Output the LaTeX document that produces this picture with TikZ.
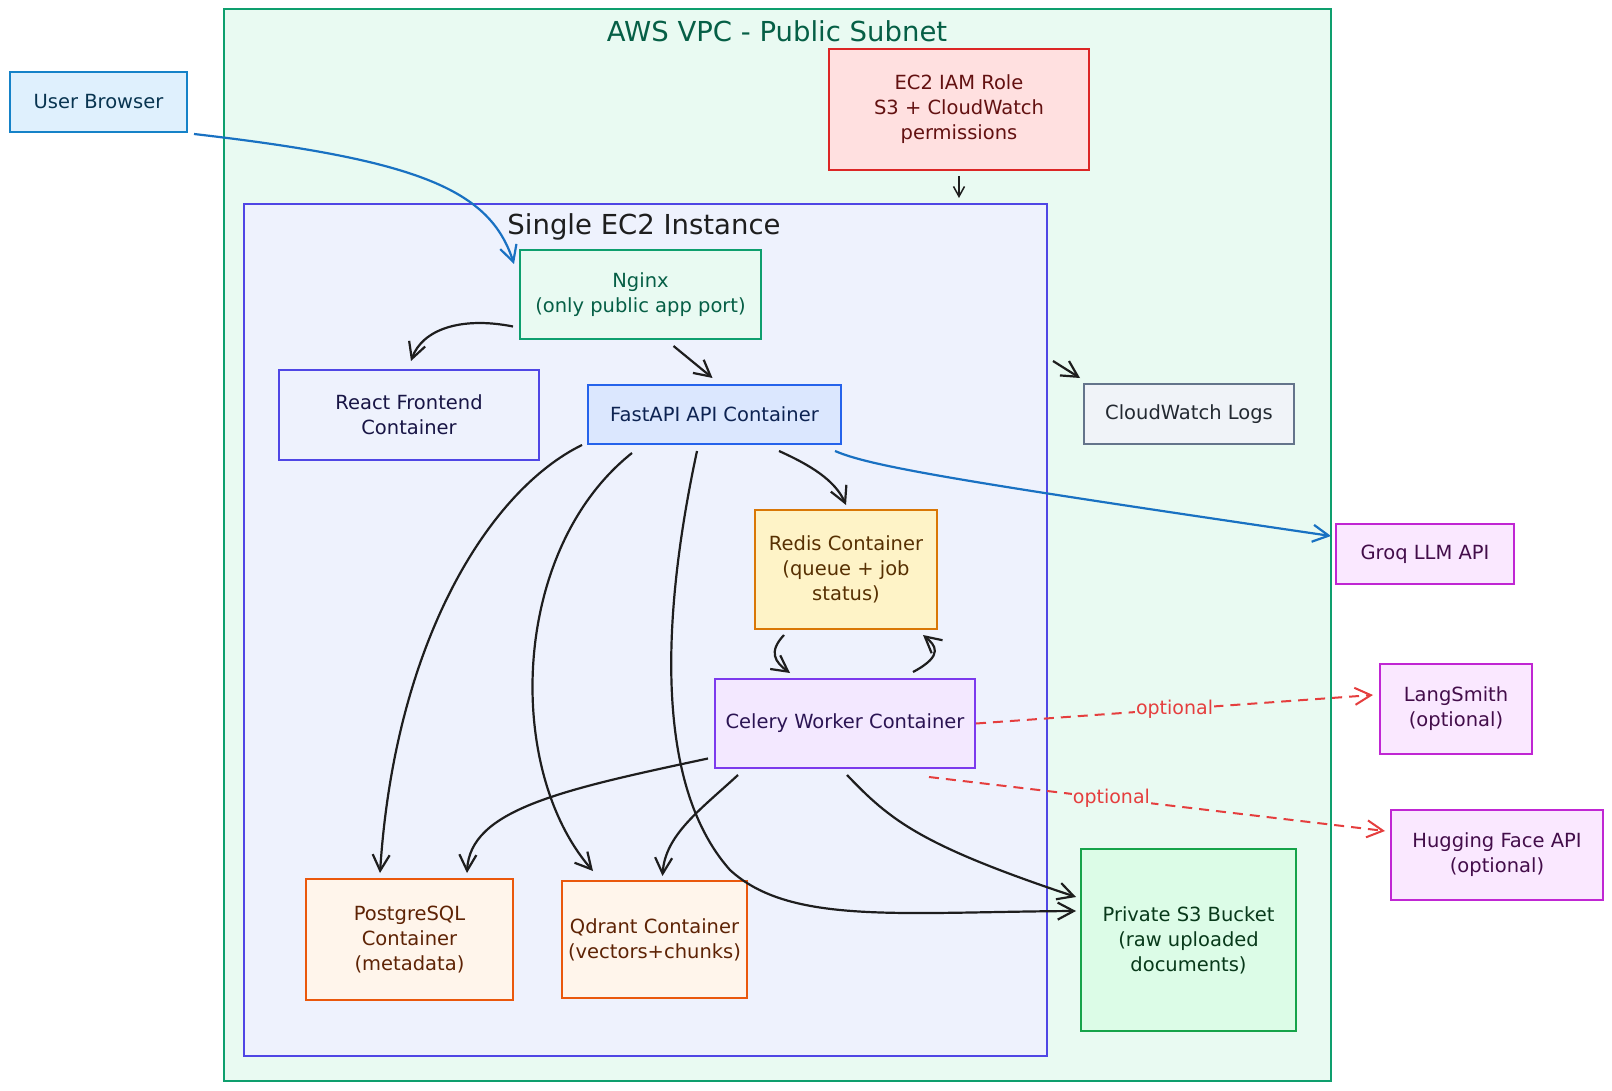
\documentclass[tikz,border=0pt]{standalone}
\usepackage{fontspec}
\setmainfont{DejaVu Sans}
\usepackage{tikz}
\usetikzlibrary{arrows.meta,positioning}

\definecolor{vpcfill}{HTML}{E9FAF2}
\definecolor{vpcline}{HTML}{0E9F6E}
\definecolor{vpctext}{HTML}{065F46}
\definecolor{ec2fill}{HTML}{EEF2FD}
\definecolor{ec2line}{HTML}{4F46E5}
\definecolor{userfill}{HTML}{DFF0FD}
\definecolor{userline}{HTML}{1582C8}
\definecolor{iamfill}{HTML}{FFE0E0}
\definecolor{iamline}{HTML}{DC2626}
\definecolor{apifill}{HTML}{DBE7FE}
\definecolor{apiline}{HTML}{2563EB}
\definecolor{cwfill}{HTML}{F0F3F8}
\definecolor{cwline}{HTML}{64748B}
\definecolor{redisfill}{HTML}{FEF3C7}
\definecolor{redisline}{HTML}{D97706}
\definecolor{celeryfill}{HTML}{F3E8FF}
\definecolor{celeryline}{HTML}{7C3AED}
\definecolor{extfill}{HTML}{FAE8FF}
\definecolor{extline}{HTML}{C026D3}
\definecolor{storefill}{HTML}{FFF5EB}
\definecolor{storeline}{HTML}{EA580C}
\definecolor{s3fill}{HTML}{DCFCE7}
\definecolor{s3line}{HTML}{16A34A}
\definecolor{arrowdark}{HTML}{1E1E1E}
\definecolor{webblue}{HTML}{1971C2}
\definecolor{optred}{HTML}{E53E3E}

\tikzset{
  container/.style={draw, line width=2pt},
  box/.style={draw, line width=2pt, align=center, inner sep=4pt,
    font=\fontsize{19.5}{25}\selectfont},
  title/.style={font=\fontsize{27.5}{30}\selectfont},
  flow/.style={->, line width=2.2pt, draw=arrowdark},
  shortflow/.style={-{Straight Barb[length=10pt,width=11pt]}, line width=1.5pt, draw=arrowdark},
  webflow/.style={->, line width=2.2pt, draw=webblue},
  optflow/.style={->, line width=2pt, draw=optred, dash pattern=on 10pt off 7pt},
  optlabel/.style={fill=vpcfill, text=optred, inner sep=1pt, font=\fontsize{19}{22}\selectfont}
}

\begin{document}
\begin{tikzpicture}[x=1pt, y=-1pt, >={Straight Barb[length=16pt,width=17pt]}]
    \useasboundingbox[fill=white] (0,0) rectangle (1612,1091);

    % VPC and EC2 instance
    \node[container, draw=vpcline, fill=vpcfill, minimum width=1107pt, minimum height=1072pt] (vpc) at (777.5,545) {};
    \node[title, text=vpctext] (vpctitle) at (777,31) {AWS VPC - Public Subnet};
    \node[container, draw=ec2line, fill=ec2fill, minimum width=803pt, minimum height=852pt] (ec2) at (645.5,630) {};
    \node[title, text=arrowdark] (ec2title) at (644,227) {Single EC2 Instance};

    % outside and IAM
    \node[box, draw=userline, fill=userfill, text=userline!40!black, minimum width=177pt, minimum height=60pt] (user) at (98.5,102) {User Browser};
    \node[box, draw=iamline, fill=iamfill, text=iamline!45!black, minimum width=260pt, minimum height=121pt] (iam) at (959,109.5) {EC2 IAM Role\\S3 + CloudWatch\\permissions};

    % containers on the instance
    \node[box, draw=vpcline, fill=vpcfill, text=vpctext, minimum width=241pt, minimum height=89pt] (nginx) at (640.5,294.5) {Nginx\\(only public app port)};
    \node[box, draw=ec2line, fill=ec2fill, text=ec2line!30!black, minimum width=260pt, minimum height=90pt] (react) at (409,415) {React Frontend\\Container};
    \node[box, draw=apiline, fill=apifill, text=apiline!35!black, minimum width=253pt, minimum height=59pt] (fastapi) at (714.5,414.5) {FastAPI API Container};
    \node[box, draw=redisline, fill=redisfill, text=redisline!40!black, minimum width=182pt, minimum height=119pt] (redis) at (846,569.5) {Redis Container\\(queue + job\\status)};
    \node[box, draw=celeryline, fill=celeryfill, text=celeryline!35!black, minimum width=260pt, minimum height=89pt] (celery) at (845,723.5) {Celery Worker Container};
    \node[box, draw=storeline, fill=storefill, text=storeline!40!black, minimum width=207pt, minimum height=121pt] (pg) at (409.5,939.5) {PostgreSQL\\Container\\(metadata)};
    \node[box, draw=storeline, fill=storefill, text=storeline!40!black, minimum width=185pt, minimum height=117pt] (qd) at (654.5,939.5) {Qdrant Container\\(vectors+chunks)};

    % AWS services and external APIs
    \node[box, draw=cwline, fill=cwfill, text=cwline!35!black, minimum width=210pt, minimum height=60pt] (cw) at (1189,414) {CloudWatch Logs};
    \node[box, draw=s3line, fill=s3fill, text=s3line!35!black, minimum width=215pt, minimum height=182pt] (s3) at (1188.5,940) {Private S3 Bucket\\(raw uploaded\\documents)};
    \node[box, draw=extline, fill=extfill, text=extline!35!black, minimum width=178pt, minimum height=60pt] (groq) at (1425,554) {Groq LLM API};
    \node[box, draw=extline, fill=extfill, text=extline!35!black, minimum width=152pt, minimum height=90pt] (lang) at (1456,709) {LangSmith\\(optional)};
    \node[box, draw=extline, fill=extfill, text=extline!35!black, minimum width=212pt, minimum height=90pt] (hf) at (1497,855) {Hugging Face API\\(optional)};

    % browser to nginx
    \draw[webflow] ([xshift=6pt,yshift=-1pt]user.south east) .. controls (420,160) and (490,190) .. ([xshift=-5pt,yshift=-15pt]nginx.north west);

    % role and logs
    \draw[shortflow, shorten <=5pt, shorten >=5pt] (iam.south) -- (iam.south |- ec2.north);
    \draw[flow] ([xshift=5pt,yshift=-158pt]ec2.north east) -- ([xshift=-3pt,yshift=5pt]cw.north west);

    % nginx routes
    \draw[flow] ([xshift=-6pt,yshift=-32pt]nginx.west) .. controls (460,316) and (422,330) .. ([xshift=2pt,yshift=8pt]react.north);
    \draw[flow] ([xshift=33pt,yshift=-6pt]nginx.south) -- ([xshift=-2pt,yshift=6pt]fastapi.north);

    % api calls
    \draw[webflow] ([xshift=-7pt,yshift=-6pt]fastapi.south east) .. controls (870,466) and (950,480) .. ([xshift=-4pt,yshift=-13pt]groq.north west);
    \draw[flow] ([xshift=64.5pt,yshift=-6pt]fastapi.south) .. controls (810,465) and (835,480) .. ([yshift=4pt]redis.north);
    \draw[flow] ([xshift=-5pt]fastapi.south west) .. controls (490,490) and (395,640) .. ([xshift=-29.5pt,yshift=5pt]pg.north);
    \draw[flow] ([xshift=-82.5pt,yshift=-8pt]fastapi.south) .. controls (510,550) and (505,770) .. ([xshift=-61.5pt,yshift=9pt]qd.north);
    \draw[flow] ([xshift=-17.5pt,yshift=-6pt]fastapi.south) .. controls (665,600) and (650,780) .. (730,870)
        .. controls (790,925) and (900,912) .. ([xshift=-4pt,yshift=29pt]s3.west);

    % queue between redis and worker
    \draw[flow] ([xshift=-62pt,yshift=-5pt]redis.south) .. controls (768,652) and (775,662) .. ([xshift=-55pt,yshift=5pt]celery.north);
    \draw[flow] ([xshift=68pt,yshift=6pt]celery.north) .. controls (945,655) and (935,645) .. ([xshift=77pt,yshift=-5pt]redis.south);

    % worker writes
    \draw[flow] ([xshift=-6pt,yshift=-35pt]celery.west) .. controls (560,790) and (470,810) .. ([xshift=57.5pt,yshift=5pt]pg.north);
    \draw[flow] ([xshift=-107pt,yshift=-6pt]celery.south) .. controls (700,810) and (665,835) .. ([xshift=8pt,yshift=4pt]qd.north);
    \draw[flow] ([xshift=2pt,yshift=-6pt]celery.south) .. controls (890,820) and (920,845) .. ([xshift=-4pt,yshift=43pt]s3.west);

    % optional tracing and embeddings
    \draw[optflow] (celery.east) -- node[pos=0.5, optlabel] {optional} ([xshift=-6pt,yshift=14pt]lang.west);
    \draw[optflow] ([xshift=84pt,yshift=-8pt]celery.south) -- node[pos=0.4, optlabel] {optional} ([xshift=-5pt,yshift=24pt]hf.west);
\end{tikzpicture}
\end{document}
